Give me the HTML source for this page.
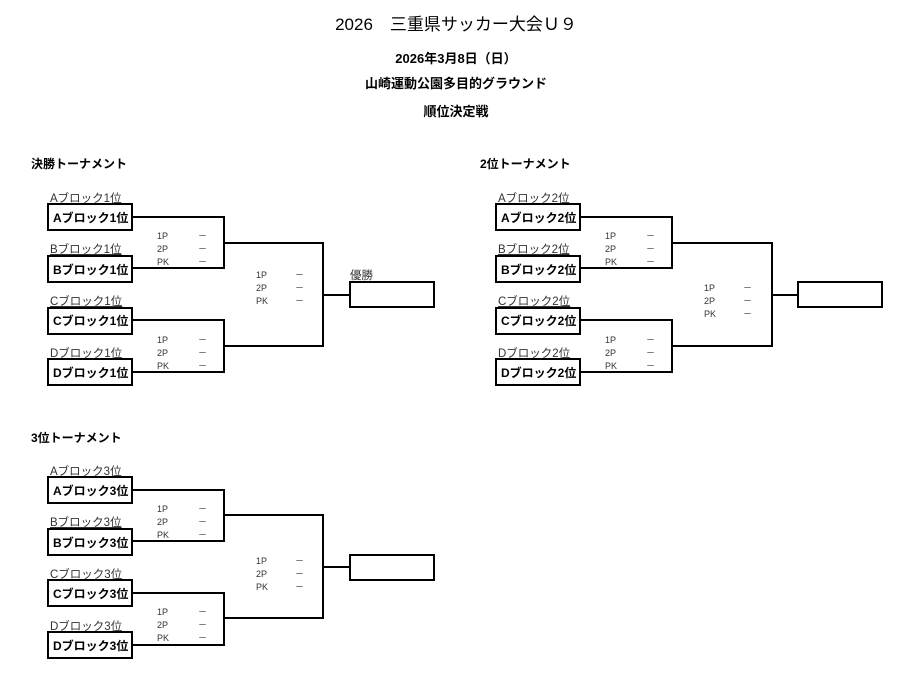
<!DOCTYPE html>
<html><head><meta charset="utf-8"><style>
html,body{margin:0;padding:0;background:#fff;}
svg{display:block;font-family:"Liberation Sans","Noto Sans CJK JP",sans-serif;}
.t{font-weight:bold;fill:#000;}
.bl{font-weight:bold;font-size:12px;fill:#000;}
.sl{font-size:11.5px;fill:#333;text-decoration:underline;}
.sc{font-size:9px;fill:#333;}
.ln{fill:none;stroke:#000;stroke-width:2;}
.bx{fill:#fff;stroke:#000;stroke-width:2;}
</style></head><body>
<svg width="912" height="675" viewBox="0 0 912 675" xmlns="http://www.w3.org/2000/svg">
<text class="t" x="456" y="30" text-anchor="middle" font-size="17" font-weight="normal" style="font-weight:normal">2026　三重県サッカー大会Ｕ９</text>
<text class="t" x="456" y="63" text-anchor="middle" font-size="13">2026年3月8日（日）</text>
<text class="t" x="456" y="88" text-anchor="middle" font-size="13">山崎運動公園多目的グラウンド</text>
<text class="t" x="456" y="116" text-anchor="middle" font-size="13">順位決定戦</text>

<!-- Bracket 1 -->
<text class="t" x="31" y="168" font-size="12">決勝トーナメント</text>
<text class="sl" x="50" y="202">Aブロック1位</text>
<text class="sl" x="50" y="253">Bブロック1位</text>
<text class="sl" x="50" y="305">Cブロック1位</text>
<text class="sl" x="50" y="357">Dブロック1位</text>
<path class="ln" d="M132 217H224V268H132M224 243H323V346H224M132 320H224V372H132M323 295H350"/>
<rect class="bx" x="48" y="204" width="84" height="26"/>
<rect class="bx" x="48" y="256" width="84" height="26"/>
<rect class="bx" x="48" y="308" width="84" height="26"/>
<rect class="bx" x="48" y="359" width="84" height="26"/>
<rect class="bx" x="350" y="282" width="84" height="25"/>
<text class="bl" x="53" y="222">Aブロック1位</text>
<text class="bl" x="53" y="274">Bブロック1位</text>
<text class="bl" x="53" y="325">Cブロック1位</text>
<text class="bl" x="53" y="377">Dブロック1位</text>
<text class="sl" x="350" y="279" style="text-decoration:none">優勝</text>
<g class="sc"><text x="157" y="239">1P</text><text x="157" y="252">2P</text><text x="157" y="265">PK</text>
<text x="198" y="239">－</text><text x="198" y="252">－</text><text x="198" y="265">－</text>
<text x="157" y="343">1P</text><text x="157" y="356">2P</text><text x="157" y="369">PK</text>
<text x="198" y="343">－</text><text x="198" y="356">－</text><text x="198" y="369">－</text>
<text x="256" y="278">1P</text><text x="256" y="291">2P</text><text x="256" y="304">PK</text>
<text x="295" y="278">－</text><text x="295" y="291">－</text><text x="295" y="304">－</text></g>

<!-- Bracket 2 -->
<text class="t" x="480" y="168" font-size="12">2位トーナメント</text>
<text class="sl" x="498" y="202">Aブロック2位</text>
<text class="sl" x="498" y="253">Bブロック2位</text>
<text class="sl" x="498" y="305">Cブロック2位</text>
<text class="sl" x="498" y="357">Dブロック2位</text>
<path class="ln" d="M580 217H672V268H580M672 243H772V346H672M580 320H672V372H580M772 295H798"/>
<rect class="bx" x="496" y="204" width="84" height="26"/>
<rect class="bx" x="496" y="256" width="84" height="26"/>
<rect class="bx" x="496" y="308" width="84" height="26"/>
<rect class="bx" x="496" y="359" width="84" height="26"/>
<rect class="bx" x="798" y="282" width="84" height="25"/>
<text class="bl" x="501" y="222">Aブロック2位</text>
<text class="bl" x="501" y="274">Bブロック2位</text>
<text class="bl" x="501" y="325">Cブロック2位</text>
<text class="bl" x="501" y="377">Dブロック2位</text>
<g class="sc"><text x="605" y="239">1P</text><text x="605" y="252">2P</text><text x="605" y="265">PK</text>
<text x="646" y="239">－</text><text x="646" y="252">－</text><text x="646" y="265">－</text>
<text x="605" y="343">1P</text><text x="605" y="356">2P</text><text x="605" y="369">PK</text>
<text x="646" y="343">－</text><text x="646" y="356">－</text><text x="646" y="369">－</text>
<text x="704" y="291">1P</text><text x="704" y="304">2P</text><text x="704" y="317">PK</text>
<text x="743" y="291">－</text><text x="743" y="304">－</text><text x="743" y="317">－</text></g>

<!-- Bracket 3 -->
<text class="t" x="31" y="442" font-size="12">3位トーナメント</text>
<text class="sl" x="50" y="475">Aブロック3位</text>
<text class="sl" x="50" y="526">Bブロック3位</text>
<text class="sl" x="50" y="578">Cブロック3位</text>
<text class="sl" x="50" y="630">Dブロック3位</text>
<path class="ln" d="M132 490H224V541H132M224 515H323V618H224M132 593H224V645H132M323 567H350"/>
<rect class="bx" x="48" y="477" width="84" height="26"/>
<rect class="bx" x="48" y="529" width="84" height="26"/>
<rect class="bx" x="48" y="580" width="84" height="26"/>
<rect class="bx" x="48" y="632" width="84" height="26"/>
<rect class="bx" x="350" y="555" width="84" height="25"/>
<text class="bl" x="53" y="495">Aブロック3位</text>
<text class="bl" x="53" y="547">Bブロック3位</text>
<text class="bl" x="53" y="598">Cブロック3位</text>
<text class="bl" x="53" y="650">Dブロック3位</text>
<g class="sc"><text x="157" y="512">1P</text><text x="157" y="525">2P</text><text x="157" y="538">PK</text>
<text x="198" y="512">－</text><text x="198" y="525">－</text><text x="198" y="538">－</text>
<text x="157" y="615">1P</text><text x="157" y="628">2P</text><text x="157" y="641">PK</text>
<text x="198" y="615">－</text><text x="198" y="628">－</text><text x="198" y="641">－</text>
<text x="256" y="564">1P</text><text x="256" y="577">2P</text><text x="256" y="590">PK</text>
<text x="295" y="564">－</text><text x="295" y="577">－</text><text x="295" y="590">－</text></g>
</svg>
</body></html>
